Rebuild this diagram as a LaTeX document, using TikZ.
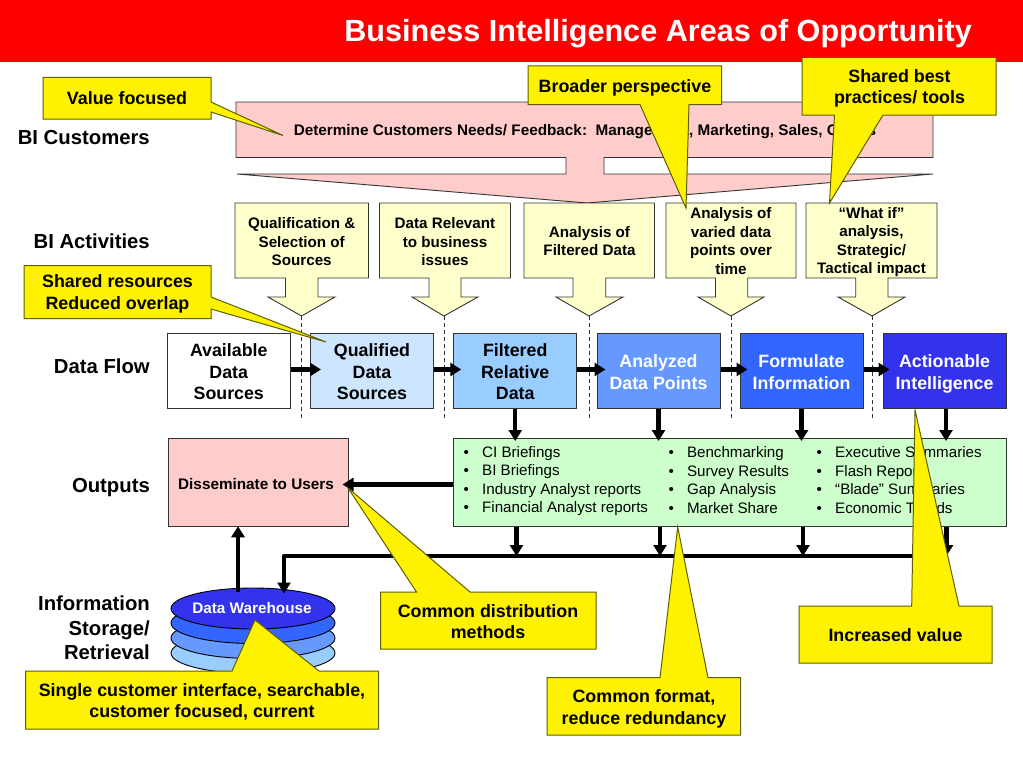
\documentclass[tikz,border=0pt]{standalone}
\usepackage{fontspec}
\setmainfont{Liberation Sans}
\usetikzlibrary{arrows.meta,shapes.geometric}
\newcommand{\fs}[2]{\fontsize{#1bp}{#2bp}\selectfont}
\newcommand{\firstline}[1]{\rule{0pt}{#1bp}}
\definecolor{calloutline}{HTML}{5F5F00}
\definecolor{boxline}{HTML}{333333}
\definecolor{paleyellow}{HTML}{FFFFCC}
\definecolor{palepink}{HTML}{FFCCCC}
\definecolor{palegreen2}{HTML}{CCFFCC}
\definecolor{flowA}{HTML}{CCE6FF}
\definecolor{flowB}{HTML}{99CCFF}
\definecolor{flowC}{HTML}{6699FF}
\definecolor{flowD}{HTML}{3366FF}
\definecolor{flowE}{HTML}{3333EE}
\tikzset{
  x=1bp,y=-1bp,
  sidelabel/.style={anchor=east,align=right,inner sep=0pt,font=\bfseries\fs{20.3}{24.5}},
  activitytext/.style={align=center,inner sep=0pt,font=\bfseries\fs{15.2}{18.5}},
  calloutshape/.style={draw=calloutline,fill=yellow,line width=1bp,line join=miter},
  callouttext/.style={align=center,inner sep=0pt,font=\bfseries\fs{17.85}{21.5}},
  activityshape/.style={draw=boxline,fill=paleyellow,line width=.9bp},
  flowbox/.style={draw=boxline,line width=1bp,minimum width=123bp,minimum height=75.5bp,inner sep=0pt,align=center,font=\bfseries\fs{17.8}{21.5}},
  thickarrow/.style={line width=4.3bp,-{Triangle[length=11bp,width=13bp]},line join=round},
  guide/.style={draw=boxline,line width=.9bp,dash pattern=on 4bp off 3bp},
  listtext/.style={anchor=west,align=left,inner sep=0pt,font=\fs{15.15}{18.4}},
  diskshape/.style={ellipse,draw=black,line width=.9bp,minimum width=164bp,minimum height=41bp,inner sep=0pt},
}
\newcommand{\bul}{\makebox[18.5bp][l]{•}}
\begin{document}
\begin{tikzpicture}
\useasboundingbox (0,0) rectangle (1023,767);
\fill[white] (0,0) rectangle (1023,767);
% title
\fill[red] (0,0) rectangle (1023,62);
\node[anchor=east,inner sep=0pt,text=white,font=\bfseries\fs{30.6}{36}] (title) at (972,33.5) {Business Intelligence Areas of Opportunity};
% side labels
\node[sidelabel] (lab1) at (150,137.5) {BI Customers};
\node[sidelabel] (lab2) at (150,241) {BI Activities};
\node[sidelabel] (lab3) at (150,366) {Data Flow};
\node[sidelabel] (lab4) at (150,488) {Outputs};
\node[sidelabel] (lab5) at (150,628) {Information\\Storage/\\Retrieval};
% customers shape
\draw[draw=boxline,fill=palepink,line width=.9bp] (236,102) -- (236,157.5) -- (566,157.5) -- (566,174) -- (237,174) -- (587,203) -- (933,174) -- (604,174) -- (604,157.5) -- (933,157.5) -- (933,102) -- cycle;
\node[inner sep=0pt,font=\bfseries\fs{15.3}{17}] (cust) at (585,132) {Determine Customers Needs/ Feedback:\ \ Management, Marketing, Sales, Others};
% guides
\coordinate (g1a) at (301.5,316); \coordinate (g1b) at (301.5,419);
\coordinate (g2a) at (444,316);   \coordinate (g2b) at (444,419);
\coordinate (g3a) at (589,316);   \coordinate (g3b) at (589,419);
\coordinate (g4a) at (731,316);   \coordinate (g4b) at (731,419);
\coordinate (g5a) at (872,316);   \coordinate (g5b) at (872,419);
\foreach \g in {g1,g2,g3,g4,g5} \draw[guide] (\g a) -- (\g b);
% activities
\draw[activityshape] (235,203) -- (368.5,203) -- (368.5,278) -- (318,278) -- (318,297) -- (335,297) -- (301.5,316) -- (268,297) -- (285.5,297) -- (285.5,278) -- (235,278) -- cycle;
\draw[activityshape] (379.5,203) -- (510.5,203) -- (510.5,278) -- (461,278) -- (461,297) -- (478,297) -- (444,316) -- (412,297) -- (429,297) -- (429,278) -- (379.5,278) -- cycle;
\draw[activityshape] (524,203) -- (654.5,203) -- (654.5,278) -- (605.7,278) -- (605.7,297) -- (623,297) -- (589,316) -- (556,297) -- (573,297) -- (573,278) -- (524,278) -- cycle;
\draw[activityshape] (666,203) -- (796,203) -- (796,278) -- (747.7,278) -- (747.7,297) -- (764,297) -- (731,316) -- (698,297) -- (715.5,297) -- (715.5,278) -- (666,278) -- cycle;
\draw[activityshape] (806,203) -- (937,203) -- (937,278) -- (888,278) -- (888,297) -- (905,297) -- (872,316) -- (838,297) -- (855.7,297) -- (855.7,278) -- (806,278) -- cycle;
\node[activitytext] (act1) at (301.7,242) {Qualification \&\\Selection of\\Sources};
\node[activitytext] (act2) at (445,242) {Data Relevant\\to business\\issues};
\node[activitytext] (act3) at (589.5,241) {Analysis of\\Filtered Data};
\node[activitytext] (act4) at (731,241) {Analysis of\\varied data\\points over\\time};
\node[activitytext] (act5) at (871.5,242) {“What if”\\analysis,\\Strategic/\\Tactical impact};
% data flow boxes
\node[flowbox,fill=white] (f0) at (228.75,371) {\firstline{15}Available\\Data\\Sources};
\node[flowbox,fill=flowA] (f1) at (372,371) {\firstline{15}Qualified\\Data\\Sources};
\node[flowbox,fill=flowB] (f2) at (515.25,371) {\firstline{15}Filtered\\Relative\\Data};
\node[flowbox,fill=flowC,text=white] (f3) at (658.5,371) {\firstline{15}Analyzed\\Data Points};
\node[flowbox,fill=flowD,text=white] (f4) at (801.5,371) {\firstline{15}Formulate\\Information};
\node[flowbox,fill=flowE,text=white] (f5) at (944.5,371) {\firstline{19}Actionable\\Intelligence};
\draw[thickarrow] ([yshift=1.5bp]f0.east) -- ([yshift=1.5bp,xshift=11bp]f1.west);
\draw[thickarrow] ([yshift=1.5bp]f1.east) -- ([yshift=1.5bp,xshift=8bp]f2.west);
\draw[thickarrow] ([yshift=1.5bp]f2.east) -- ([yshift=1.5bp,xshift=9bp]f3.west);
\draw[thickarrow] ([yshift=1.5bp]f3.east) -- ([yshift=1.5bp,xshift=8bp]f4.west);
\draw[thickarrow] ([yshift=1.5bp]f4.east) -- ([yshift=1.5bp,xshift=7bp]f5.west);
% outputs
\node[draw=boxline,fill=palepink,line width=1bp,minimum width=179.5bp,minimum height=88.5bp,inner sep=0pt] (diss) at (258.25,482.5) {};
\node[inner sep=0pt,font=\bfseries\fs{15.3}{17}] (disstext) at (256,484.5) {Disseminate to Users};
\node[draw=boxline,fill=palegreen2,line width=1bp,minimum width=552.5bp,minimum height=88bp,inner sep=0pt] (out) at (730,482.5) {};
\node[listtext] (l1) at (463.5,481) {\bul CI Briefings\\\bul BI Briefings\\\bul Industry Analyst reports\\\bul Financial Analyst reports};
\node[listtext] (l2) at (668.3,480) {\bul Benchmarking\\\bul Survey Results\\\bul Gap Analysis\\\bul Market Share};
\node[listtext] (l3) at (816.5,480) {\bul Executive Summaries\\\bul Flash Reports\\\bul “Blade” Summaries\\\bul Economic Trends};
% flow down into outputs
\draw[thickarrow] (f2.south) -- ([yshift=-3bp]f2.south |- out.north);
\draw[thickarrow] (f3.south) -- ([yshift=-3bp]f3.south |- out.north);
\draw[thickarrow] (f4.south) -- ([yshift=-3bp]f4.south |- out.north);
\draw[thickarrow] ([xshift=1.5bp]f5.south) -- ([xshift=1.5bp,yshift=-3bp]f5.south |- out.north);
\draw[thickarrow] ([yshift=-2bp]out.west) -- ([xshift=-6bp,yshift=-2bp]diss.east);
% database
\node[diskshape,fill=flowB] (db4) at (253,653) {};
\node[diskshape,fill=flowC] (db3) at (253,638) {};
\node[diskshape,fill=flowD] (db2) at (253,623) {};
\node[diskshape,fill=flowE] (db1) at (253,608.5) {};
\node[inner sep=0pt,text=white,font=\bfseries\fs{15.3}{17}] (dbtext) at (252,608) {Data Warehouse};
% bus
\coordinate (busL) at (284,556);
\coordinate (busR) at (946.5,556);
\coordinate (d1) at (516.5,556);
\coordinate (d2) at (660,556);
\coordinate (d3) at (803,556);
\coordinate (dbup) at (238,592);
\draw[thickarrow] (busR) -- (busL) -- ([yshift=-6bp]busL |- db1.north);
\foreach \p in {d1,d2,d3,busR} \draw[thickarrow] (\p |- out.south) -- (\p);
\draw[thickarrow] (dbup) -- ([yshift=1bp]dbup |- diss.south);
% callouts
\draw[calloutshape] (43,77.5) -- (211,77.5) -- (211,102) -- (283,135.5) -- (211,112) -- (211,119) -- (43,119) -- cycle;
\node[callouttext] (c1) at (127,98.5) {Value focused};
\draw[calloutshape] (24,265.5) -- (211,265.5) -- (211,297) -- (326,342) -- (211,309) -- (211,318.5) -- (24,318.5) -- cycle;
\node[callouttext] (c2) at (117.5,294) {Shared resources\\Reduced overlap};
\draw[calloutshape] (528,66) -- (721.5,66) -- (721.5,104.5) -- (689,104.5) -- (686,208) -- (640,104.5) -- (528,104.5) -- cycle;
\node[callouttext] (c3) at (625,88) {Broader perspective};
\draw[calloutshape] (802,57.5) -- (996,57.5) -- (996,115) -- (883,115) -- (829.5,203) -- (834.5,115) -- (802,115) -- cycle;
\node[callouttext] (c4) at (899.5,88.5) {Shared best\\practices/ tools};
\draw[calloutshape] (380.5,592) -- (416.5,592) -- (348,488) -- (470,592) -- (596,592) -- (596,649) -- (380.5,649) -- cycle;
\node[callouttext] (c5) at (488,621.5) {Common distribution\\methods};
\draw[calloutshape] (547,677.7) -- (660,677.7) -- (677.7,527) -- (708,677.7) -- (740.5,677.7) -- (740.5,735) -- (547,735) -- cycle;
\node[callouttext] (c6) at (644,709) {Common format,\\reduce redundancy};
\draw[calloutshape] (799,606) -- (911.7,606) -- (915,410) -- (959,606) -- (992,606) -- (992,663) -- (799,663) -- cycle;
\node[callouttext] (c7) at (895.5,635.5) {Increased value};
\draw[calloutshape] (25.5,671) -- (232,671) -- (255,620) -- (319,671) -- (378.5,671) -- (378.5,729) -- (25.5,729) -- cycle;
\node[callouttext] (c8) at (202,702) {Single customer interface, searchable,\\customer focused, current};
\end{tikzpicture}
\end{document}
